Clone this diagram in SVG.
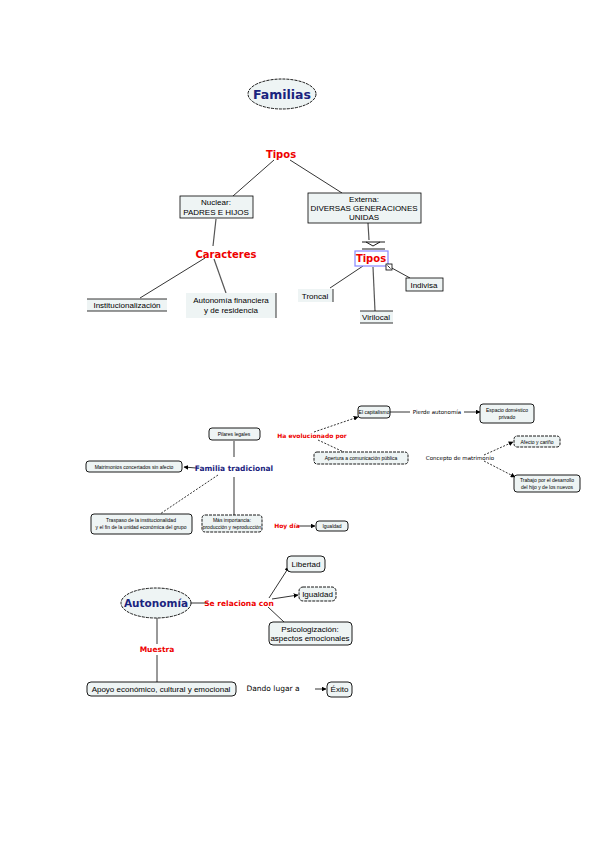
<svg xmlns="http://www.w3.org/2000/svg" width="599" height="848" viewBox="0 0 599 848">
<defs>
<marker id="ah" viewBox="0 0 10 10" refX="9" refY="5" markerWidth="6" markerHeight="6" orient="auto"><path d="M0,0 L10,5 L0,10 z" fill="#000"/></marker>
<style>
text{font-family:"DejaVu Sans","Liberation Sans",sans-serif;text-anchor:middle;fill:#000}
.c{stroke:#000;stroke-width:0.8;fill:none}
.d{stroke:#000;stroke-width:0.8;fill:none;stroke-dasharray:2,1.5}
.g{stroke:#555;stroke-width:1.2;fill:none}
.box{fill:#eef4f4;stroke:#000;stroke-width:0.8}
.rbox{fill:#eef4f4;stroke:#000;stroke-width:0.9}
.lbl{fill:#e00;font-weight:bold}
.nv{fill:#1a237e;font-weight:bold}
.t{font-size:8px;font-family:"Liberation Sans",Arial,sans-serif}
.s{font-size:5px;font-family:"Liberation Sans",Arial,sans-serif}
</style>
</defs>
<rect width="599" height="848" fill="#fff"/>
<g id="connectors">
<line class="c" x1="274" y1="160" x2="233" y2="196"/>
<line class="c" x1="290" y1="160" x2="342" y2="193"/>
<line class="g" x1="216" y1="219" x2="213" y2="246"/>
<line class="c" x1="205" y1="258" x2="140" y2="298"/>
<line class="g" x1="214" y1="259" x2="226" y2="293"/>
<line class="g" x1="368" y1="223" x2="369" y2="240"/>
<line class="c" x1="363" y1="266" x2="330" y2="288"/>
<line class="g" x1="373" y1="267" x2="375" y2="311"/>
<line class="c" x1="390" y1="267" x2="410" y2="278"/>
<line class="g" x1="234" y1="441" x2="234" y2="457"/>
<line class="c" x1="196" y1="468" x2="184" y2="467" marker-end="url(#ah)"/>
<line class="d" x1="218" y1="475" x2="160" y2="514"/>
<line class="g" x1="234" y1="477" x2="234" y2="515"/>
<line class="c" x1="297" y1="526" x2="315" y2="526" marker-end="url(#ah)"/>
<line class="d" x1="314" y1="432" x2="358" y2="417" marker-end="url(#ah)"/>
<line class="d" x1="318" y1="440" x2="348" y2="454"/>
<line class="c" x1="390" y1="412" x2="410" y2="412"/>
<line class="c" x1="464" y1="412" x2="480" y2="412" marker-end="url(#ah)"/>
<line class="d" x1="484" y1="455" x2="513" y2="442" marker-end="url(#ah)"/>
<line class="d" x1="484" y1="461" x2="515" y2="477" marker-end="url(#ah)"/>
<line class="c" x1="191" y1="603" x2="208" y2="603"/>
<line class="c" x1="269" y1="598" x2="289" y2="567" marker-end="url(#ah)"/>
<line class="c" x1="272" y1="599" x2="298" y2="595" marker-end="url(#ah)"/>
<line class="c" x1="268" y1="607" x2="284" y2="622"/>
<line class="c" x1="157" y1="618" x2="157" y2="644"/>
<line class="c" x1="157" y1="655" x2="157" y2="682"/>
<line class="c" x1="315" y1="689" x2="326" y2="689" marker-end="url(#ah)"/>
</g>
<g id="familias"><ellipse cx="282" cy="94" rx="34" ry="15" fill="#eef4f4" stroke="#000" stroke-width="0.9" stroke-dasharray="3,1"/><text x="282" y="98.5" font-size="12.5" class="nv">Familias</text></g>
<g id="tipos1"><text x="281" y="158" font-size="10" class="lbl">Tipos</text></g>
<g id="nuclear"><rect class="box" x="180" y="196" width="73" height="22"/><text class="t" x="216" y="205">Nuclear:</text><text class="t" x="216" y="215">PADRES E HIJOS</text></g>
<g id="externa"><rect class="box" x="308" y="193" width="113" height="30"/><text class="t" x="364" y="202">Externa:</text><text class="t" x="364" y="211">DIVERSAS GENERACIONES</text><text class="t" x="364" y="220">UNIDAS</text></g>
<g id="caracteres"><text x="226" y="258" font-size="10" class="lbl">Caracteres</text></g>
<g id="institucionalizacion"><rect x="87" y="299" width="80" height="12" fill="#eef4f4"/><line class="c" x1="87" y1="299" x2="167" y2="299"/><line class="c" x1="87" y1="311" x2="167" y2="311"/><text class="t" x="127" y="308">Institucionalización</text></g>
<g id="autonomia-fin"><rect x="186" y="293" width="90" height="25" fill="#eef4f4"/><line class="c" x1="276" y1="293" x2="276" y2="318"/><text class="t" x="231" y="303">Autonomía financiera</text><text class="t" x="231" y="313">y de residencia</text></g>
<g id="tipos2"><path d="M362,242 h23 M362,249 h23 M366,242 l7,4 l7,-4" stroke="#000" stroke-width="0.9" fill="none"/><rect x="355" y="251" width="33" height="15" fill="#fff" stroke="#88f" stroke-width="1.2"/><text x="371" y="262" font-size="10" class="lbl">Tipos</text><rect x="386" y="264" width="6" height="6" fill="#fff" stroke="#000" stroke-width="0.8"/><path d="M387.5,265.5 l3,3" stroke="#000" stroke-width="0.8"/></g>
<g id="troncal"><rect x="298" y="289" width="35" height="13" fill="#eef4f4"/><line class="c" x1="333" y1="289" x2="333" y2="302"/><text class="t" x="315" y="299">Troncal</text></g>
<g id="virilocal"><rect x="360" y="311" width="33" height="12" fill="#eef4f4"/><line class="c" x1="360" y1="311" x2="393" y2="311"/><line class="c" x1="360" y1="323" x2="393" y2="323"/><text class="t" x="376" y="320">Virilocal</text></g>
<g id="indivisa"><rect class="box" x="406" y="278" width="37" height="13"/><text class="t" x="424" y="288">Indivisa</text></g>
<g id="pilares"><rect class="rbox" x="209" y="428" width="51" height="12" rx="3"/><text class="s" x="234" y="436">Pilares legales</text></g>
<g id="familia-tradicional"><text x="234" y="471" font-size="7.5" class="nv">Familia tradicional</text></g>
<g id="matrimonios"><rect class="rbox" x="86" y="461" width="96" height="11" rx="3"/><text class="s" x="134" y="468.5">Matrimonios concertados sin afecto</text></g>
<g id="traspaso"><rect class="rbox" x="91" y="514" width="101" height="20" rx="3"/><text class="s" x="141" y="522">Traspaso de la institucionalidad</text><text class="s" x="141" y="529">y el fin de la unidad económica del grupo</text></g>
<g id="produccion"><rect class="rbox" x="202" y="515" width="60" height="17" rx="3" stroke-dasharray="3,1"/><text class="s" x="232" y="522">Más importancia:</text><text class="s" x="232" y="529">producción y reproducción</text></g>
<g id="hoy-dia"><text x="287" y="528" font-size="6" class="lbl">Hoy día</text></g>
<g id="igualdad1"><rect class="rbox" x="316" y="521" width="32" height="10" rx="3"/><text class="s" x="332" y="528">Igualdad</text></g>
<g id="ha-evolucionado"><text x="312" y="438" font-size="6" class="lbl">Ha evolucionado por</text></g>
<g id="capitalismo"><rect class="rbox" x="358" y="406" width="32" height="12" rx="3"/><text class="s" x="374" y="414">El capitalismo</text></g>
<g id="pierde"><text x="437" y="414" font-size="5.5">Pierde autonomía</text></g>
<g id="espacio"><rect class="rbox" x="480" y="404" width="54" height="19" rx="3"/><text class="s" x="507" y="412">Espacio doméstico</text><text class="s" x="507" y="419">privado</text></g>
<g id="aparece"><rect class="rbox" x="314" y="452" width="94" height="12" rx="3" stroke-dasharray="3,1"/><text class="s" x="361" y="460">Apertura a comunicación pública</text></g>
<g id="concepto"><text x="460" y="460" font-size="5.5">Concepto de matrimonio</text></g>
<g id="afecto"><rect class="rbox" x="514" y="436" width="46" height="11" rx="3" stroke-dasharray="3,1"/><text class="s" x="537" y="443.5">Afecto y cariño</text></g>
<g id="trabajo"><rect class="rbox" x="514" y="475" width="66" height="17" rx="3"/><text class="s" x="547" y="482">Trabajo por el desarrollo</text><text class="s" x="547" y="489">del hijo y de los nuevos</text></g>
<g id="autonomia"><ellipse cx="156" cy="603" rx="35" ry="15" fill="#eef4f4" stroke="#000" stroke-width="0.9" stroke-dasharray="3,1"/><text x="156" y="607" font-size="10.5" class="nv">Autonomía</text></g>
<g id="se-relaciona"><text x="239" y="606" font-size="7.5" class="lbl">Se relaciona con</text></g>
<g id="libertad"><rect class="rbox" x="287" y="556" width="38" height="16" rx="4"/><text class="t" x="306" y="567">Libertad</text></g>
<g id="igualdad2"><rect class="rbox" x="299" y="587" width="37" height="14" rx="4" stroke-dasharray="3,1"/><text class="t" x="317.5" y="597">Igualdad</text></g>
<g id="psicologizacion"><rect class="rbox" x="269" y="622" width="83" height="23" rx="4"/><text class="t" x="310" y="632">Psicologización:</text><text class="t" x="310" y="641">aspectos emocionales</text></g>
<g id="muestra"><text x="157" y="652" font-size="7.5" class="lbl">Muestra</text></g>
<g id="apoyo"><rect class="rbox" x="87" y="682" width="149" height="14" rx="4"/><text class="t" x="161" y="692">Apoyo económico, cultural y emocional</text></g>
<g id="dando"><text x="273" y="691" font-size="7.5" font-family="Liberation Sans, Arial, sans-serif">Dando lugar a</text></g>
<g id="exito"><rect class="rbox" x="327" y="682" width="25" height="15" rx="4"/><text class="t" x="339.5" y="692">Éxito</text></g>
</svg>
